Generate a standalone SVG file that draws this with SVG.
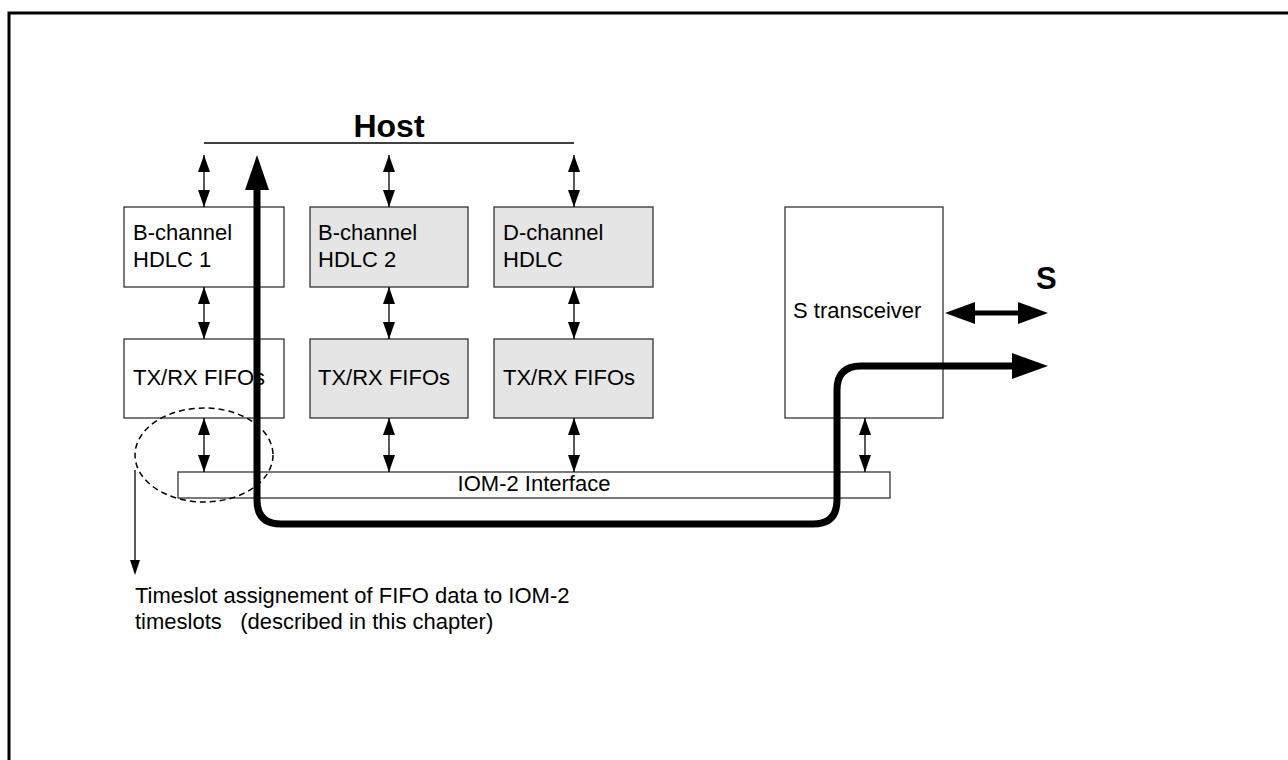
<svg xmlns="http://www.w3.org/2000/svg" width="1288" height="760" viewBox="0 0 1288 760">
<defs>
<style>
text{font-family:"Liberation Sans",Arial,sans-serif;fill:#000}
.lbl{font-size:22px}
.box{fill:#fff;stroke:#333;stroke-width:1.3}
.gbox{fill:#e5e5e5;stroke:#333;stroke-width:1.3}
.thin{stroke:#000;stroke-width:1.3;fill:none}
.thick{stroke:#000;stroke-width:7;fill:none;stroke-linejoin:round}
</style>
<marker id="ah" viewBox="0 0 17 12" refX="17" refY="6" markerWidth="17" markerHeight="12" markerUnits="userSpaceOnUse" orient="auto-start-reverse">
<path d="M0,0 L17,6 L0,12 Z" fill="#000"/>
</marker>
</defs>
<rect width="1288" height="760" fill="#fff"/>
<path d="M9,760 V13 H1288" stroke="#000" stroke-width="3" fill="none"/>

<g id="host">
<line x1="204" y1="143" x2="574" y2="143" stroke="#000" stroke-width="1.3"/>
<text x="389" y="137" text-anchor="middle" font-size="32" font-weight="bold">Host</text>
</g>

<g id="hdlc1"><rect class="box" x="124" y="207" width="160" height="80"/>
<text class="lbl" x="133" y="240">B-channel</text><text class="lbl" x="133" y="267">HDLC 1</text></g>
<g id="hdlc2"><rect class="gbox" x="310" y="207" width="158" height="80"/>
<text class="lbl" x="318" y="240">B-channel</text><text class="lbl" x="318" y="267">HDLC 2</text></g>
<g id="hdlcd"><rect class="gbox" x="494" y="207" width="159" height="80"/>
<text class="lbl" x="503" y="240">D-channel</text><text class="lbl" x="503" y="267">HDLC</text></g>

<g id="fifo1"><rect class="box" x="124" y="339" width="160" height="79"/>
<text class="lbl" x="133" y="385">TX/RX FIFOs</text></g>
<g id="fifo2"><rect class="gbox" x="310" y="339" width="158" height="79"/>
<text class="lbl" x="318" y="385">TX/RX FIFOs</text></g>
<g id="fifo3"><rect class="gbox" x="494" y="339" width="159" height="79"/>
<text class="lbl" x="503" y="385">TX/RX FIFOs</text></g>

<g id="strans"><rect class="box" x="785" y="207" width="158" height="211"/>
<text class="lbl" x="793" y="318">S transceiver</text></g>

<g id="iom"><rect class="box" x="178" y="472" width="712" height="26"/>
<text class="lbl" x="534" y="491" text-anchor="middle">IOM-2 Interface</text></g>

<g id="annotation">
<ellipse cx="204" cy="455" rx="69" ry="47" fill="none" stroke="#000" stroke-width="1.5" stroke-dasharray="6 4"/>
<text class="lbl" x="135" y="603">Timeslot assignement of FIFO data to IOM-2</text>
<text class="lbl" x="135" y="629" xml:space="preserve">timeslots   (described in this chapter)</text>
<text x="1036" y="289" font-size="31" font-weight="bold">S</text>
</g>

<g id="connectors">
<line class="thin" x1="204" y1="155" x2="204" y2="207" marker-start="url(#ah)" marker-end="url(#ah)"/>
<line class="thin" x1="389" y1="155" x2="389" y2="207" marker-start="url(#ah)" marker-end="url(#ah)"/>
<line class="thin" x1="574" y1="155" x2="574" y2="207" marker-start="url(#ah)" marker-end="url(#ah)"/>
<line class="thin" x1="204" y1="287" x2="204" y2="339" marker-start="url(#ah)" marker-end="url(#ah)"/>
<line class="thin" x1="389" y1="287" x2="389" y2="339" marker-start="url(#ah)" marker-end="url(#ah)"/>
<line class="thin" x1="574" y1="287" x2="574" y2="339" marker-start="url(#ah)" marker-end="url(#ah)"/>
<line class="thin" x1="204" y1="418" x2="204" y2="472" marker-start="url(#ah)" marker-end="url(#ah)"/>
<line class="thin" x1="389" y1="418" x2="389" y2="472" marker-start="url(#ah)" marker-end="url(#ah)"/>
<line class="thin" x1="574" y1="418" x2="574" y2="472" marker-start="url(#ah)" marker-end="url(#ah)"/>
<line class="thin" x1="865" y1="418" x2="865" y2="472" marker-start="url(#ah)" marker-end="url(#ah)"/>
<path d="M135,470 V561" class="thin"/>
<path d="M130,560 L135,575 L140,560 Z" fill="#000"/>
<path class="thick" d="M257,188 V500 Q257,524 281,524 H813 Q837,524 837,500 V390 Q837,366 861,366 H1014"/>
<path d="M245,190 L257,155 L269,190 Z" fill="#000"/>
<path d="M1012,353 L1048,366 L1012,379 Z" fill="#000"/>
<line x1="972" y1="313" x2="1020" y2="313" stroke="#000" stroke-width="5"/>
<path d="M975,302 L945,313 L975,324 Z" fill="#000"/>
<path d="M1018,302 L1048,313 L1018,324 Z" fill="#000"/>
</g>
</svg>
